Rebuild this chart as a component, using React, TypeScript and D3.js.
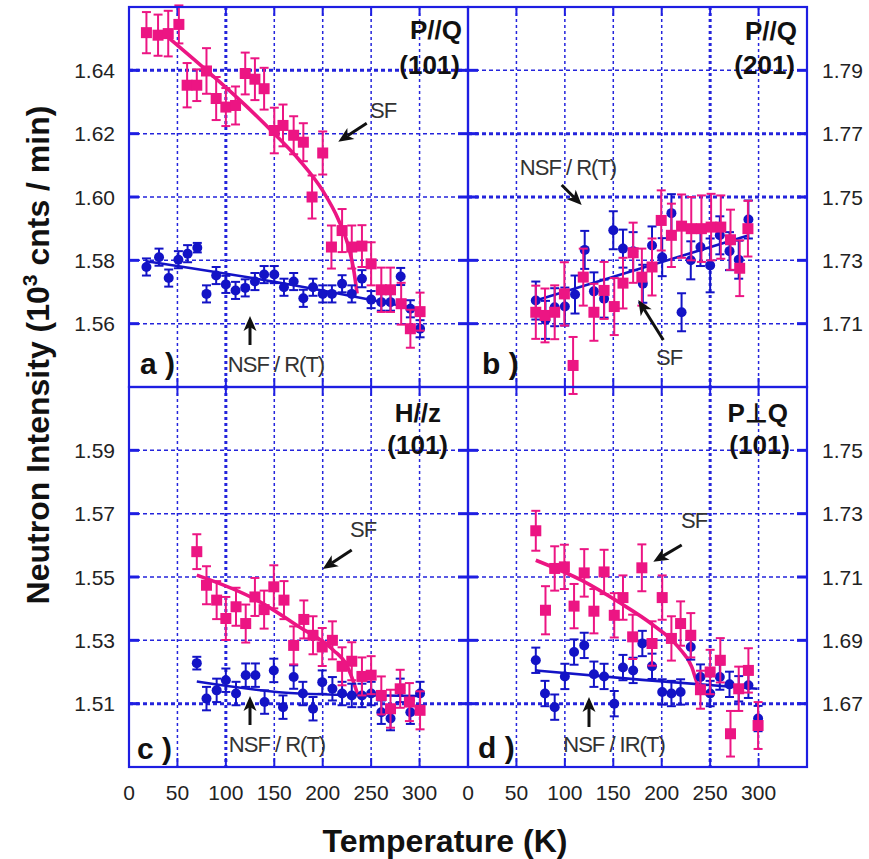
import React from 'react';
import * as d3 from 'd3';

const W = 869;
const H = 859;

// ---------- axis ticks ----------
const xTicks = [0, 50, 100, 150, 200, 250, 300];
const yTicksA = [1.56, 1.58, 1.60, 1.62, 1.64];
const yTicksB = [1.71, 1.73, 1.75, 1.77, 1.79];
const yTicksC = [1.51, 1.53, 1.55, 1.57, 1.59];
const yTicksD = [1.67, 1.69, 1.71, 1.73, 1.75];

// ---------- panel a : P//Q (101) ----------  [T, intensity, error]
const aSF = [
  [18, 1.6519, 0.0065], [30, 1.6511, 0.0065], [40.5, 1.6516, 0.0072], [51.5, 1.6545, 0.0060],
  [60, 1.6353, 0.0070], [70, 1.6353, 0.0050], [80, 1.6398, 0.0072], [90, 1.6311, 0.0068],
  [100, 1.6284, 0.0060], [110, 1.6289, 0.0060], [120, 1.639, 0.0066], [130, 1.6372, 0.0066],
  [139.5, 1.6342, 0.0066], [150, 1.621, 0.0072], [159, 1.6226, 0.0066], [170, 1.6195, 0.0060],
  [180, 1.6173, 0.0060], [189, 1.600, 0.0068], [200, 1.6139, 0.0068], [209, 1.5842, 0.0068],
  [220, 1.5894, 0.0068], [230, 1.5842, 0.0068], [240.5, 1.5845, 0.0066], [250, 1.5789, 0.0068],
  [260.5, 1.5707, 0.0070], [270, 1.5707, 0.0070], [281, 1.5663, 0.0066], [290.5, 1.5584, 0.0060],
  [300.5, 1.5638, 0.0060],
];
const aNSF = [
  [18, 1.5779, 0.0027], [31, 1.581, 0.0027], [41, 1.5744, 0.0027], [51, 1.5802, 0.0027],
  [60.5, 1.5821, 0.0027], [70.5, 1.584, 0.0015], [80, 1.5694, 0.0027], [90, 1.5752, 0.0027],
  [100, 1.5724, 0.0027], [110, 1.5705, 0.0027], [120, 1.5713, 0.0027], [130, 1.5733, 0.0027],
  [139.5, 1.5755, 0.0027], [150, 1.5755, 0.0027], [160, 1.5715, 0.0027], [170, 1.5733, 0.0027],
  [180, 1.568, 0.0027], [190, 1.5715, 0.0027], [200, 1.5694, 0.0027], [209.5, 1.5694, 0.0027],
  [220, 1.5726, 0.0027], [230, 1.5694, 0.0027], [240.5, 1.5742, 0.0027], [250, 1.5676, 0.0027],
  [260.5, 1.5668, 0.0027], [270, 1.5668, 0.0027], [280.5, 1.5749, 0.0027], [290.5, 1.5647, 0.0027],
  [300.5, 1.5584, 0.0027],
];
const aSFfit = [
  [40, 1.6505], [80, 1.640], [120, 1.629], [150, 1.620], [176, 1.6116], [200, 1.602],
  [216, 1.593], [226, 1.585], [232, 1.577], [235.5, 1.5695],
];
const aNSFfit = [[18, 1.5797], [160, 1.5727], [300, 1.5645]];

// ---------- panel b : P//Q (201) ----------
const bSF = [
  [70, 1.7136, 0.0084], [79.5, 1.7126, 0.0085], [89.5, 1.7136, 0.0085], [99.5, 1.7194, 0.0100],
  [108.5, 1.6968, 0.0090], [119, 1.7247, 0.0090], [130, 1.7136, 0.0090], [140.5, 1.7205, 0.0090],
  [151, 1.7154, 0.0090], [160, 1.7228, 0.0080], [170.5, 1.7324, 0.0095], [179.5, 1.7247, 0.0090],
  [190, 1.7279, 0.0090], [199.5, 1.7426, 0.0095], [210, 1.7379, 0.0100], [220.5, 1.7408, 0.0100],
  [230.5, 1.740, 0.0100], [241, 1.740, 0.0105], [251, 1.7405, 0.0105], [261, 1.7405, 0.0100],
  [271, 1.7365, 0.0095], [280.5, 1.7275, 0.0088], [289, 1.740, 0.0088],
];
const bNSF = [
  [70, 1.7173, 0.0060], [80, 1.7112, 0.0060], [89.5, 1.7152, 0.0060], [100, 1.7154, 0.0060],
  [110.5, 1.7192, 0.0060], [120.5, 1.7333, 0.0060], [130, 1.7202, 0.0060], [140.5, 1.7179, 0.0060],
  [150, 1.7395, 0.0060], [160, 1.7337, 0.0060], [170.5, 1.7329, 0.0060], [180.5, 1.7226, 0.0060],
  [190, 1.7347, 0.0060], [200.5, 1.731, 0.0060], [210, 1.7449, 0.0060], [220.5, 1.7136, 0.0060],
  [230, 1.730, 0.0060], [240, 1.7342, 0.0060], [250, 1.7284, 0.0085], [260, 1.7379, 0.0060],
  [270, 1.7329, 0.0060], [279.5, 1.7302, 0.0060], [289.5, 1.7429, 0.0060],
];
const bNSFfit = [[70, 1.7173], [290, 1.7379]];

// ---------- panel c : H//z (101) ----------
const cSF = [
  [70, 1.558, 0.0055], [80, 1.5474, 0.0060], [90.5, 1.5427, 0.0060], [100, 1.5369, 0.0068],
  [110.5, 1.5406, 0.0060], [120.5, 1.5353, 0.0060], [130, 1.5437, 0.0060], [139.5, 1.5397, 0.0060],
  [149.5, 1.5469, 0.0068], [160, 1.5427, 0.0060], [170, 1.5284, 0.0060], [180.5, 1.5366, 0.0060],
  [190, 1.5316, 0.0060], [199.5, 1.5279, 0.0060], [210, 1.530, 0.0060], [220, 1.5218, 0.0060],
  [230, 1.5234, 0.0060], [240.5, 1.5186, 0.0060], [250, 1.519, 0.0060], [260.5, 1.5126, 0.0060],
  [270, 1.5084, 0.0060], [280, 1.5147, 0.0060], [289.5, 1.5105, 0.0060], [300.5, 1.5079, 0.0060],
];
const cNSF = [
  [70, 1.5228, 0.0020], [80, 1.5116, 0.0037], [90.5, 1.5142, 0.0037], [100, 1.5174, 0.0037],
  [110.5, 1.5132, 0.0037], [120.5, 1.519, 0.0037], [130.5, 1.519, 0.0037], [140, 1.5105, 0.0037],
  [149.5, 1.5205, 0.0037], [159, 1.5089, 0.0037], [170, 1.5184, 0.0037], [179.5, 1.5132, 0.0037],
  [190, 1.5084, 0.0037], [199.5, 1.5168, 0.0037], [210, 1.5147, 0.0037], [220, 1.5132, 0.0037],
  [230, 1.5126, 0.0037], [240.5, 1.5126, 0.0037], [250, 1.5132, 0.0037], [260.5, 1.5073, 0.0037],
  [270, 1.5053, 0.0037], [280, 1.5142, 0.0037], [290.5, 1.5073, 0.0037], [300.5, 1.5132, 0.0037],
];
const cSFfit = [
  [70, 1.5506], [132, 1.5427], [176, 1.5342], [211, 1.5269], [225, 1.522], [233, 1.5158], [236, 1.513],
];
const cNSFfit = [[70, 1.517], [176, 1.5132], [300, 1.5124]];

// ---------- panel d : P⊥Q (101) ----------
const dSF = [
  [70, 1.7246, 0.0063], [80, 1.6995, 0.0076], [89.5, 1.7127, 0.0070], [99.5, 1.7132, 0.0070],
  [109.5, 1.7008, 0.0070], [120, 1.7113, 0.0075], [130, 1.6992, 0.0070], [140.5, 1.7116, 0.0070],
  [151, 1.6979, 0.0070], [160, 1.7035, 0.0070], [170, 1.6911, 0.0070], [179.5, 1.7129, 0.0074],
  [190, 1.689, 0.0070], [200.5, 1.7035, 0.0070], [210, 1.6906, 0.0070], [219.5, 1.6953, 0.0070],
  [230, 1.6916, 0.0070], [240, 1.6744, 0.0060], [250, 1.680, 0.0070], [260.5, 1.6837, 0.0070],
  [271, 1.6605, 0.0072], [279.5, 1.6747, 0.0070], [289.5, 1.6805, 0.0070], [299.5, 1.6631, 0.0074],
];
const dNSF = [
  [70, 1.6837, 0.0040], [79.5, 1.6732, 0.0040], [89.5, 1.6689, 0.0040], [100, 1.6786, 0.0040],
  [109.5, 1.6863, 0.0040], [120, 1.6884, 0.0040], [130, 1.6793, 0.0040], [140.5, 1.6786, 0.0040],
  [151, 1.670, 0.0040], [160, 1.6814, 0.0040], [170.5, 1.6805, 0.0040], [180, 1.689, 0.0040],
  [190, 1.6818, 0.0040], [200.5, 1.6737, 0.0040], [210, 1.6732, 0.0040], [219.5, 1.6737, 0.0040],
  [230, 1.6879, 0.0040], [240, 1.6784, 0.0040], [250, 1.6732, 0.0040], [260, 1.6784, 0.0040],
  [270, 1.6761, 0.0040], [279.5, 1.6747, 0.0040], [289.5, 1.6758, 0.0040], [299.5, 1.6653, 0.0040],
];
const dSFfit = [
  [70, 1.7153], [117, 1.709], [158, 1.7016], [189, 1.6953], [217, 1.6879], [231, 1.6816],
  [237, 1.6763], [240, 1.675],
];
const dNSFfit = [[70, 1.6805], [180, 1.6775], [299, 1.6747]];

// ---------- styles ----------
const PINK = '#ec1583';
const BLUE = '#1313c6';
const FRAME = '#1e1ee2';
const GRID = '#2424dc';
const FONT = '"Liberation Sans", Arial, Helvetica, sans-serif';

function Arrow({ x1, y1, x2, y2 }: { x1: number; y1: number; x2: number; y2: number }) {
  const dx = x2 - x1, dy = y2 - y1;
  const L = Math.hypot(dx, dy);
  const ux = dx / L, uy = dy / L;
  const px = -uy, py = ux;
  const hl = 15, hw = 6.5, notch = 4;
  const bx = x2 - ux * hl, by = y2 - uy * hl;
  const nx = x2 - ux * (hl - notch), ny = y2 - uy * (hl - notch);
  const pts = [
    [x2, y2], [bx + px * hw, by + py * hw], [nx, ny], [bx - px * hw, by - py * hw],
  ].map((p) => p.join(',')).join(' ');
  return (
    <g>
      <line x1={x1} y1={y1} x2={nx} y2={ny} stroke="#111" strokeWidth={3} />
      <polygon points={pts} fill="#111" />
    </g>
  );
}

type PanelCfg = {
  x0: number; x1: number; y0: number; y1: number;
  yDomain: [number, number];
  yTicks: number[];
  side: 'left' | 'right';
  sf: number[][]; nsf: number[][];
  sfFit?: number[][]; nsfFit: number[][];
  t1: string; t2: string; t1x: number; t1y: number; t2x: number; t2y: number;
  letter: string; lx: number; ly: number;
  sfText: [number, number]; sfArrow: [number, number, number, number];
  nsfLabel: string; nsfText: [number, number]; nsfArrow: [number, number, number, number];
  thickX: number[]; thickY: number[];
};

function Panel({ c }: { c: PanelCfg }) {
  const x = d3.scaleLinear().domain([0, 350]).range([c.x0, c.x1]);
  const y = d3.scaleLinear().domain(c.yDomain).range([c.y1, c.y0]);
  const line = d3.line<number[]>().x((d) => x(d[0])).y((d) => y(d[1])).curve(d3.curveMonotoneX);
  const gridX = xTicks.filter((t) => t > 0);
  const capW = 4.5;
  return (
    <g>
      {/* grid */}
      {gridX.map((t) => (
        <line key={'gx' + t} x1={x(t)} x2={x(t)} y1={c.y0} y2={c.y1} stroke={GRID}
          strokeWidth={c.thickX.includes(t) ? 3 : 1.5} strokeDasharray="3 3" />
      ))}
      {c.yTicks.map((t) => (
        <line key={'gy' + t} x1={c.x0} x2={c.x1} y1={y(t)} y2={y(t)} stroke={GRID}
          strokeWidth={c.thickY.includes(t) ? 3 : 1.5} strokeDasharray="4 3" />
      ))}
      {/* tick marks */}
      {c.yTicks.map((t) => (
        <g key={'ty' + t}>
          <line x1={c.x0} x2={c.x0 + 10} y1={y(t)} y2={y(t)} stroke={FRAME} strokeWidth={3} />
          <line x1={c.x1 - 10} x2={c.x1} y1={y(t)} y2={y(t)} stroke={FRAME} strokeWidth={3} />
        </g>
      ))}
      {xTicks.map((t) => (
        <g key={'tx' + t}>
          <line x1={x(t)} x2={x(t)} y1={c.y1} y2={c.y1 - 9} stroke={FRAME} strokeWidth={2} />
          <line x1={x(t)} x2={x(t)} y1={c.y0} y2={c.y0 + 9} stroke={FRAME} strokeWidth={2} />
        </g>
      ))}
      {/* tick labels */}
      {c.yTicks.map((t) => (
        <text key={'yl' + t} x={c.side === 'left' ? c.x0 - 14 : c.x1 + 15} y={y(t) + 7.5}
          textAnchor={c.side === 'left' ? 'end' : 'start'} fontSize={21} fill="#222" fontFamily={FONT}>
          {t.toFixed(2)}
        </text>
      ))}
      {c.y1 > 600 && xTicks.map((t) => (
        <text key={'xl' + t} x={x(t)} y={800} textAnchor="middle" fontSize={21} fill="#222"
          fontFamily={FONT}>{t}</text>
      ))}
      {/* fits */}
      <path d={line(c.nsfFit) || ''} fill="none" stroke={BLUE} strokeWidth={2.6} />
      {c.sfFit && <path d={line(c.sfFit) || ''} fill="none" stroke={PINK} strokeWidth={3.6} />}
      {/* NSF points */}
      {c.nsf.map((d, i) => (
        <g key={'n' + i} stroke={BLUE} strokeWidth={2}>
          <line x1={x(d[0])} x2={x(d[0])} y1={y(d[1] - d[2])} y2={y(d[1] + d[2])} />
          <line x1={x(d[0]) - capW} x2={x(d[0]) + capW} y1={y(d[1] - d[2])} y2={y(d[1] - d[2])} />
          <line x1={x(d[0]) - capW} x2={x(d[0]) + capW} y1={y(d[1] + d[2])} y2={y(d[1] + d[2])} />
          <circle cx={x(d[0])} cy={y(d[1])} r={5} fill={BLUE} stroke="none" />
        </g>
      ))}
      {/* SF points */}
      {c.sf.map((d, i) => (
        <g key={'s' + i} stroke={PINK} strokeWidth={2}>
          <line x1={x(d[0])} x2={x(d[0])} y1={y(d[1] - d[2])} y2={y(d[1] + d[2])} />
          <line x1={x(d[0]) - capW} x2={x(d[0]) + capW} y1={y(d[1] - d[2])} y2={y(d[1] - d[2])} />
          <line x1={x(d[0]) - capW} x2={x(d[0]) + capW} y1={y(d[1] + d[2])} y2={y(d[1] + d[2])} />
          <rect x={x(d[0]) - 5.5} y={y(d[1]) - 5.5} width={11} height={11} fill={PINK} stroke="none" />
        </g>
      ))}
      {/* labels */}
      <text x={c.x0 + c.t1x} y={c.y0 + c.t1y} textAnchor="end" fontSize={26} fontWeight="bold"
        fill="#111" fontFamily={FONT}>{c.t1}</text>
      <text x={c.x0 + c.t2x} y={c.y0 + c.t2y} textAnchor="end" fontSize={26} fontWeight="bold"
        fill="#111" fontFamily={FONT}>{c.t2}</text>
      <text x={c.x0 + c.lx} y={c.y0 + c.ly} fontSize={30} fontWeight="bold" fill="#111"
        fontFamily={FONT}>{c.letter}</text>
      <text x={c.x0 + c.sfText[0]} y={c.y0 + c.sfText[1]} fontSize={22} fill="#333"
        fontFamily={FONT} letterSpacing={-1}>SF</text>
      <Arrow x1={c.x0 + c.sfArrow[0]} y1={c.y0 + c.sfArrow[1]} x2={c.x0 + c.sfArrow[2]} y2={c.y0 + c.sfArrow[3]} />
      <text x={c.x0 + c.nsfText[0]} y={c.y0 + c.nsfText[1]} textAnchor="middle" fontSize={22}
        fill="#333" fontFamily={FONT} letterSpacing={-1}>{c.nsfLabel}</text>
      <Arrow x1={c.x0 + c.nsfArrow[0]} y1={c.y0 + c.nsfArrow[1]} x2={c.x0 + c.nsfArrow[2]} y2={c.y0 + c.nsfArrow[3]} />
      {/* frame */}
      <rect x={c.x0} y={c.y0} width={c.x1 - c.x0} height={c.y1 - c.y0} fill="none" stroke={FRAME} strokeWidth={2.2} />
    </g>
  );
}

const panels: PanelCfg[] = [
  {
    x0: 129, x1: 468, y0: 7, y1: 387, yDomain: [1.54, 1.66], yTicks: yTicksA, side: 'left',
    sf: aSF, nsf: aNSF, sfFit: aSFfit, nsfFit: aNSFfit,
    t1: 'P//Q', t2: '(101)', t1x: 333, t1y: 32, t2x: 331, t2y: 67,
    letter: 'a )', lx: 11, ly: 367,
    sfText: [241, 111], sfArrow: [237.7, 116.3, 209.3, 134.7],
    nsfLabel: 'NSF / R(T)', nsfText: [147, 365], nsfArrow: [121, 338, 121, 309],
    thickX: [100], thickY: [1.64],
  },
  {
    x0: 468, x1: 807, y0: 7, y1: 387, yDomain: [1.69, 1.81], yTicks: yTicksB, side: 'right',
    sf: bSF, nsf: bNSF, nsfFit: bNSFfit,
    t1: 'P//Q', t2: '(201)', t1x: 329, t1y: 33, t2x: 327, t2y: 67,
    letter: 'b )', lx: 14, ly: 367,
    sfText: [188, 358], sfArrow: [195.3, 333, 170.3, 293],
    nsfLabel: 'NSF / R(T)', nsfText: [100, 168], nsfArrow: [93.7, 178, 113.7, 198],
    thickX: [250], thickY: [1.77, 1.75],
  },
  {
    x0: 129, x1: 468, y0: 387, y1: 767, yDomain: [1.49, 1.61], yTicks: yTicksC, side: 'left',
    sf: cSF, nsf: cNSF, sfFit: cSFfit, nsfFit: cNSFfit,
    t1: 'H//z', t2: '(101)', t1x: 312, t1y: 35, t2x: 319, t2y: 67,
    letter: 'c )', lx: 8, ly: 372,
    sfText: [221, 150], sfArrow: [222.7, 163, 193.7, 182],
    nsfLabel: 'NSF / R(T)', nsfText: [148, 365], nsfArrow: [121, 338, 121, 309],
    thickX: [100], thickY: [1.51],
  },
  {
    x0: 468, x1: 807, y0: 387, y1: 767, yDomain: [1.65, 1.77], yTicks: yTicksD, side: 'right',
    sf: dSF, nsf: dNSF, sfFit: dSFfit, nsfFit: dNSFfit,
    t1: 'P⊥Q', t2: '(101)', t1x: 320, t1y: 35, t2x: 322, t2y: 67,
    letter: 'd )', lx: 10, ly: 371,
    sfText: [213, 141], sfArrow: [213.7, 158, 185.3, 174.7],
    nsfLabel: 'NSF / IR(T)', nsfText: [146, 365], nsfArrow: [121, 340, 121, 310],
    thickX: [250], thickY: [1.67],
  },
];

export default function App() {
  return (
    <svg width={W} height={H} viewBox={`0 0 ${W} ${H}`}
      style={{ position: 'absolute', left: 0, top: 0, background: '#fff' }}>
      <rect x={0} y={0} width={W} height={H} fill="#fff" />
      {panels.map((p, i) => <Panel key={i} c={p} />)}
      <text transform="translate(49,355) rotate(-90)" textAnchor="middle" fontSize={32}
        fontWeight="bold" fill="#111" fontFamily={FONT}>
        Neutron Intensity (10<tspan dy={-12} fontSize={21}>3</tspan><tspan dy={12}> cnts / min)</tspan>
      </text>
      <text x={445} y={852} textAnchor="middle" fontSize={32} fontWeight="bold" fill="#111"
        fontFamily={FONT}>Temperature (K)</text>
    </svg>
  );
}
